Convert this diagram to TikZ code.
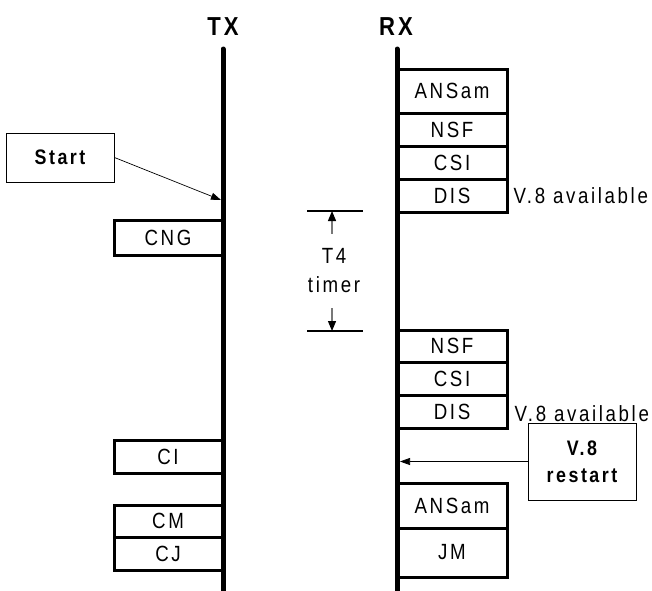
\documentclass[tikz,border=0pt]{standalone}
\usepackage{fontspec}
\setmainfont{Liberation Sans}[FakeStretch=0.85,LetterSpace=12]
\usetikzlibrary{arrows.meta}
\definecolor{timerGray}{RGB}{120,120,120}

\begin{document}
\begin{tikzpicture}[x=1pt,y=-1pt,
    msg/.style={draw, line width=3pt, minimum width=108pt, minimum height=33pt, inner sep=0pt, font=\fontsize{22}{24}\selectfont},
    note/.style={draw, line width=0.9pt, inner sep=0pt, align=center, font=\bfseries\fontsize{21}{27}\selectfont},
    side/.style={font=\bfseries\fontsize{26}{28}\selectfont},
    tip/.style={-{Triangle[length=10pt,width=7pt]}}]
  \useasboundingbox (0,0) rectangle (652,590);

  % the two sides
  \node[side] (tx) at (223,27) {TX};
  \node[side] (rx) at (396,27) {RX};
  \draw[line width=5pt, line cap=round] (223,49) -- (223,592);
  \draw[line width=5pt, line cap=round] (397,49) -- (397,592);

  % TX messages
  \node[msg, minimum height=35pt] (cng) at (168,237.5) {CNG};
  \node[msg] (ci) at (168,456.5) {CI};
  \node[msg, minimum height=32pt] (cm) at (168,521) {CM};
  \node[msg, minimum height=33pt] (cj) at (168,553.5) {CJ};

  % RX messages, first try
  \node[msg, minimum width=110pt, minimum height=44pt] (ans1) at (452,91) {ANSam};
  \node[msg, minimum width=110pt] (nsf1) at (452,129.5) {NSF};
  \node[msg, minimum width=110pt] (csi1) at (452,162.5) {CSI};
  \node[msg, minimum width=110pt] (dis1) at (452,195.5) {DIS};
  \node[anchor=west, font=\fontsize{22}{24}\selectfont] (avail1) at (510,196) {V.8 available};

  % RX messages, after restart
  \node[msg, minimum width=110pt, minimum height=32pt] (nsf2) at (452,346) {NSF};
  \node[msg, minimum width=110pt] (csi2) at (452,378.5) {CSI};
  \node[msg, minimum width=110pt] (dis2) at (452,411.5) {DIS};
  \node[anchor=west, font=\fontsize{22}{24}\selectfont] (avail2) at (511,414) {V.8 available};
  \node[msg, minimum width=110pt, minimum height=45pt] (ans2) at (452,505.5) {ANSam};
  \node[msg, minimum width=110pt, minimum height=49pt] (jm) at (452,552.5) {JM};

  % notes
  \node[note, minimum width=108pt, minimum height=49pt] (start) at (60,157.5) {Start};
  \coordinate (startend) at (221,200);
  \draw[line width=0.7pt, tip] (start.east) -- (startend);

  \node[note, minimum width=108pt, minimum height=77pt] (restart) at (582,461.5) {V.8\\restart};
  \coordinate (restartend) at (400,461.5);
  \draw[line width=0.7pt, tip] (restart.west) -- (restartend);

  % T4 timer
  \coordinate (ttopl) at (307,211);
  \coordinate (ttopr) at (363,211);
  \coordinate (tbotl) at (307,331);
  \coordinate (tbotr) at (363,331);
  \draw[line width=1.2pt] (ttopl) -- (ttopr);
  \draw[line width=1.2pt] (tbotl) -- (tbotr);
  \node[align=center, inner xsep=0pt, inner ysep=15pt, font=\fontsize{22}{29}\selectfont] (t4) at (334,271) {T4\\timer};
  \coordinate (ttop) at (332,211);
  \coordinate (tbot) at (332,331);
  \draw[timerGray, line width=1.2pt, -{Triangle[length=10pt,width=8pt,color=black]}] (t4.north -| ttop) -- (ttop);
  \draw[timerGray, line width=1.2pt, -{Triangle[length=10pt,width=8pt,color=black]}] (t4.south -| tbot) -- (tbot);
\end{tikzpicture}
\end{document}
